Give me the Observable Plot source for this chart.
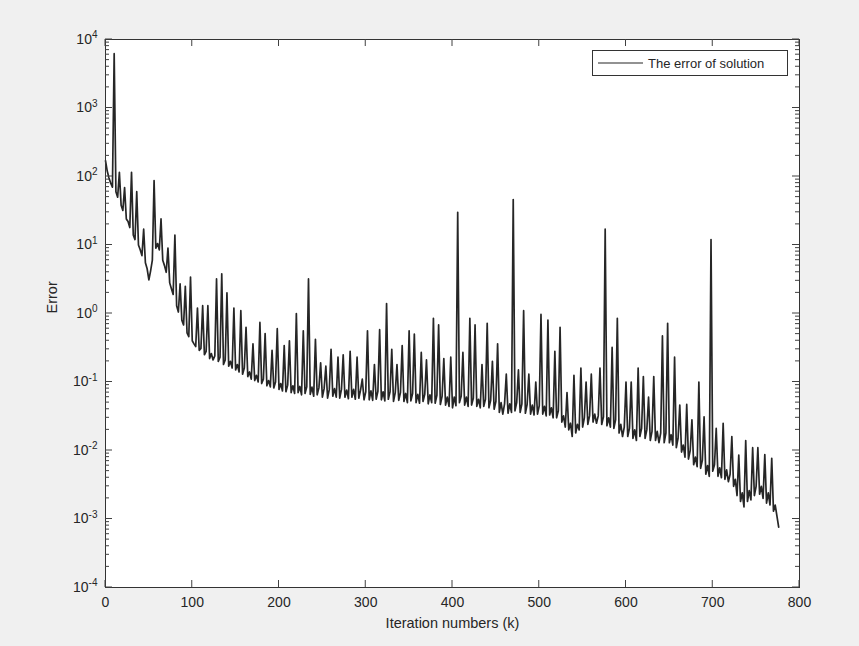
<!DOCTYPE html>
<html>
<head>
<meta charset="utf-8">
<script src="https://cdn.jsdelivr.net/npm/d3@7"></script>
<script src="https://cdn.jsdelivr.net/npm/@observablehq/plot@0.6"></script>
<style>
  html, body { margin: 0; padding: 0; background: #f0f0f0; }
  #chart svg { display: block; }
</style>
</head>
<body>
<div id="chart"></div>
<script>
// Iterations are sampled every 2 steps: k = 0, 2, 4, ..., 776
const iterationStep = 2;

// Error values (log scale), one array per 100 iterations
const err000 = [170, 120, 95, 80, 70, 6200, 60, 50, 115, 38,
  32, 69, 24, 22, 18, 115, 14, 12, 60, 10,
  8.5, 7, 17, 5.5, 4.5, 3.1, 4.2, 6, 87, 9,
  10.5, 8.5, 24, 6, 5, 4, 9, 2.8, 2.3, 1.9,
  14, 1.3, 1.05, 2.7, 0.8, 0.68, 2.5, 0.52, 0.46, 3.4];
const err100 = [0.4, 0.36, 0.33, 1.2, 0.29, 0.31, 1.3, 0.25, 0.28, 1.3,
  0.22, 0.26, 0.21, 0.24, 3.2, 0.2, 0.23, 3.8, 0.18, 0.21,
  2.0, 0.17, 0.2, 0.16, 1.2, 0.15, 0.18, 0.14, 1.1, 0.13,
  0.16, 0.63, 0.12, 0.14, 0.11, 0.36, 0.105, 0.125, 0.1, 0.74,
  0.095, 0.11, 0.51, 0.088, 0.105, 0.085, 0.29, 0.082, 0.1, 0.6];
const err200 = [0.078, 0.095, 0.074, 0.34, 0.072, 0.09, 0.4, 0.07, 0.088, 0.068,
  1.0, 0.07, 0.086, 0.065, 0.56, 0.068, 0.085, 3.2, 0.066, 0.084,
  0.062, 0.42, 0.065, 0.082, 0.19, 0.06, 0.08, 0.17, 0.058, 0.078,
  0.3, 0.062, 0.08, 0.06, 0.23, 0.058, 0.078, 0.25, 0.06, 0.076,
  0.057, 0.28, 0.06, 0.078, 0.056, 0.23, 0.058, 0.076, 0.11, 0.055];
const err300 = [0.072, 0.56, 0.055, 0.074, 0.054, 0.18, 0.056, 0.073, 0.58, 0.055,
  0.072, 0.053, 1.4, 0.056, 0.072, 0.3, 0.052, 0.07, 0.18, 0.054,
  0.07, 0.34, 0.052, 0.068, 0.05, 0.56, 0.053, 0.068, 0.5, 0.05,
  0.066, 0.049, 0.27, 0.052, 0.066, 0.21, 0.048, 0.065, 0.05, 0.85,
  0.049, 0.064, 0.68, 0.047, 0.062, 0.22, 0.046, 0.06, 0.044, 0.23];
const err400 = [0.042, 0.06, 0.045, 30, 0.05, 0.062, 0.27, 0.046, 0.06, 0.044,
  0.85, 0.046, 0.058, 0.68, 0.044, 0.056, 0.042, 0.18, 0.044, 0.056,
  0.72, 0.042, 0.054, 0.2, 0.04, 0.052, 0.36, 0.036, 0.05, 0.034,
  0.048, 0.13, 0.035, 0.048, 0.036, 46, 0.038, 0.05, 0.15, 0.036,
  0.048, 1.1, 0.035, 0.047, 0.13, 0.034, 0.046, 0.033, 0.1, 0.034];
const err500 = [0.045, 0.97, 0.034, 0.044, 0.032, 0.8, 0.033, 0.042, 0.03, 0.28,
  0.03, 0.038, 0.63, 0.026, 0.032, 0.022, 0.07, 0.02, 0.025, 0.016,
  0.125, 0.018, 0.024, 0.02, 0.16, 0.022, 0.03, 0.1, 0.024, 0.032,
  0.13, 0.026, 0.034, 0.025, 0.032, 0.16, 0.024, 0.031, 17, 0.023,
  0.03, 0.022, 0.32, 0.021, 0.028, 0.85, 0.018, 0.024, 0.016, 0.022];
const err600 = [0.1, 0.016, 0.021, 0.1, 0.015, 0.02, 0.014, 0.16, 0.016, 0.021,
  0.12, 0.015, 0.02, 0.06, 0.014, 0.019, 0.12, 0.014, 0.019, 0.013,
  0.018, 0.47, 0.013, 0.018, 0.72, 0.013, 0.017, 0.012, 0.23, 0.011,
  0.015, 0.046, 0.0095, 0.012, 0.008, 0.047, 0.0075, 0.01, 0.028, 0.0062,
  0.008, 0.0058, 0.1, 0.0055, 0.0072, 0.031, 0.0045, 0.006, 0.0042, 12];
const err700 = [0.005, 0.0062, 0.021, 0.0042, 0.0056, 0.004, 0.025, 0.0038, 0.0052, 0.0035,
  0.0045, 0.016, 0.003, 0.0038, 0.0022, 0.0086, 0.0018, 0.0024, 0.0015, 0.014,
  0.0018, 0.0026, 0.0019, 0.011, 0.0022, 0.003, 0.011, 0.0023, 0.003, 0.002,
  0.0087, 0.0017, 0.0024, 0.0016, 0.0077, 0.0013, 0.0016, 0.0011, 0.00076];

const errorValues = [...err000, ...err100, ...err200, ...err300, ...err400, ...err500, ...err600, ...err700];

// Axis tick values
const xTickValues = [0, 100, 200, 300, 400, 500, 600, 700, 800];
const yTickValues = [1e-4, 1e-3, 1e-2, 1e-1, 1e0, 1e1, 1e2, 1e3, 1e4];

const seriesName = "The error of solution";
const xLabel = "Iteration numbers (k)";
const yLabel = "Error";

const data = errorValues.map((v, i) => ({k: i * iterationStep, err: v}));
const yMinor = yTickValues.slice(0, -1).flatMap(d => [2, 3, 4, 5, 6, 7, 8, 9].map(m => m * d));

const font = "'Liberation Sans', Arial, Helvetica, sans-serif";
const ink = "#262626";
const tickInk = "#404040";

const chart = Plot.plot({
  width: 859,
  height: 646,
  marginLeft: 105,
  marginRight: 60,
  marginTop: 39,
  marginBottom: 59,
  style: {background: "#f0f0f0", fontFamily: font, fontSize: "14px", color: ink},
  x: {domain: [0, 800]},
  y: {type: "log", domain: [1e-4, 1e4]},
  marks: [
    Plot.frame({fill: "white", stroke: null}),
    Plot.line(data, {x: "k", y: "err", stroke: ink, strokeWidth: 1.7, strokeLinejoin: "round"}),
    Plot.axisY(yTickValues, {anchor: "left", tickSize: 0, tickPadding: 8, label: null,
      tickFormat: d => "10^" + Math.round(Math.log10(d)), fontSize: 14, fill: ink}),
    Plot.axisX(xTickValues, {anchor: "bottom", tickSize: 0, tickPadding: 10, label: null, fontSize: 14, fill: ink}),
    Plot.frame({stroke: "#333", strokeWidth: 1}),
    Plot.text([yLabel], {text: d => d, frameAnchor: "left", dx: -53, rotate: -90, fontSize: 14.5, fill: ink}),
    Plot.text([xLabel], {text: d => d, frameAnchor: "bottom", dy: 40, fontSize: 14.5, fill: ink})
  ]
});

// superscript exponents on the y tick labels
d3.select(chart).selectAll('g[aria-label="y-axis tick label"] text').each(function () {
  const t = this.textContent;
  if (t.includes("^")) {
    const [b, e] = t.split("^");
    this.textContent = "";
    const s = d3.select(this);
    s.append("tspan").text(b);
    s.append("tspan").attr("dy", "-0.55em").attr("font-size", "10px").text(e);
  }
});

// inward tick marks on all four sides (MATLAB box style), positioned with the plot's own scales
const sx = chart.scale("x"), sy = chart.scale("y");
const [xl, xr] = sx.range, [yb, yt] = sy.range;
const MAJ = 7, MIN = 4;
const tg = d3.select(chart).append("g").attr("stroke", tickInk).attr("stroke-width", 1).attr("fill", "none");
const tick = (x1, y1, x2, y2) => tg.append("line").attr("x1", x1).attr("y1", y1).attr("x2", x2).attr("y2", y2);
yMinor.forEach(v => { const y = sy.apply(v); tick(xl, y, xl + MIN, y); tick(xr, y, xr - MIN, y); });
yTickValues.forEach(v => { const y = sy.apply(v); tick(xl, y, xl + MAJ, y); tick(xr, y, xr - MAJ, y); });
xTickValues.forEach(v => { const x = sx.apply(v); tick(x, yb, x, yb - MAJ); tick(x, yt, x, yt + MAJ); });

// legend box (top right inside the plot)
const lg = d3.select(chart).append("g").attr("font-family", font).attr("text-anchor", "start");
lg.append("rect").attr("x", 592.5).attr("y", 50.5).attr("width", 195).attr("height", 25)
  .attr("fill", "white").attr("stroke", "#333").attr("stroke-width", 1);
lg.append("line").attr("x1", 598).attr("x2", 643).attr("y1", 63).attr("y2", 63)
  .attr("stroke", ink).attr("stroke-width", 1.2);
lg.append("text").attr("x", 648).attr("y", 63).attr("dy", "0.35em").attr("font-size", 13)
  .attr("text-anchor", "start").attr("fill", ink).text(seriesName);

document.getElementById("chart").appendChild(chart);
</script>
</body>
</html>
